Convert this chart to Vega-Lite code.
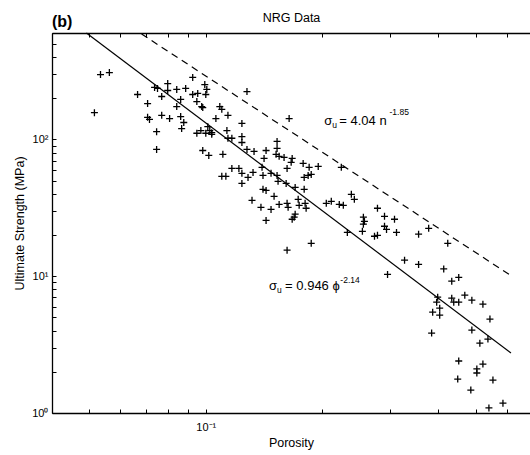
{
  "$schema": "https://vega.github.io/schema/vega-lite/v6.json",
  "width": 478,
  "height": 380,
  "autosize": {"type": "none"},
  "padding": {"left": 52, "top": 33, "right": 0, "bottom": 42},
  "background": "white",
  "title": {"text": "(b)", "anchor": "start", "frame": "group", "font": "Liberation Sans", "fontSize": 16, "fontWeight": "bold", "color": "black", "offset": 0, "dy": 18},
  "config": {
    "view": {"stroke": null},
    "font": "Liberation Sans",
    "axis": {
      "grid": false,
      "domainColor": "black",
      "domainWidth": 1.3,
      "tickColor": "black",
      "tickWidth": 1,
      "labelColor": "black",
      "titleColor": "black",
      "labelFont": "Liberation Sans",
      "titleFont": "Liberation Sans",
      "labelFontSize": 11,
      "titleFontSize": 12.5,
      "titleFontWeight": "normal",
      "labelFlush": false,
      "labelOverlap": false
    }
  },
  "datasets": {
    "pts": [
      {"porosity":0.0534,"strength":298},{"porosity":0.0563,"strength":308},{"porosity":0.0515,"strength":157},{"porosity":0.0666,"strength":213},
      {"porosity":0.0707,"strength":183},{"porosity":0.0707,"strength":145},{"porosity":0.0715,"strength":140},{"porosity":0.0746,"strength":114},
      {"porosity":0.0746,"strength":84.5},{"porosity":0.0737,"strength":240},{"porosity":0.075,"strength":236},{"porosity":0.0769,"strength":206},
      {"porosity":0.0797,"strength":256},{"porosity":0.0797,"strength":228},{"porosity":0.0841,"strength":232},{"porosity":0.0769,"strength":150},
      {"porosity":0.0806,"strength":142},{"porosity":0.0841,"strength":174},{"porosity":0.0925,"strength":284},{"porosity":0.0887,"strength":236},
      {"porosity":0.0994,"strength":252},{"porosity":0.1006,"strength":232},{"porosity":0.0925,"strength":213},{"porosity":0.0953,"strength":217},
      {"porosity":0.1,"strength":213},{"porosity":0.0948,"strength":189},{"porosity":0.0976,"strength":174},{"porosity":0.0982,"strength":171},
      {"porosity":0.0861,"strength":196},{"porosity":0.1087,"strength":174},{"porosity":0.11,"strength":166},{"porosity":0.1141,"strength":150},
      {"porosity":0.1062,"strength":142},{"porosity":0.1278,"strength":224},{"porosity":0.0861,"strength":147},{"porosity":0.0877,"strength":133},
      {"porosity":0.0866,"strength":120},{"porosity":0.1012,"strength":124},{"porosity":0.0971,"strength":116},{"porosity":0.0948,"strength":111},
      {"porosity":0.1024,"strength":116},{"porosity":0.1036,"strength":112},{"porosity":0.1036,"strength":109},{"porosity":0.1,"strength":111},
      {"porosity":0.1134,"strength":116},{"porosity":0.124,"strength":131},{"porosity":0.1141,"strength":102},{"porosity":0.1168,"strength":102},
      {"porosity":0.124,"strength":105},{"porosity":0.124,"strength":95},{"porosity":0.0982,"strength":83},{"porosity":0.1018,"strength":76.4},
      {"porosity":0.1107,"strength":77.8},{"porosity":0.1278,"strength":84.5},{"porosity":0.1333,"strength":81.7},{"porosity":0.1432,"strength":83},
      {"porosity":0.1529,"strength":96.7},{"porosity":0.1529,"strength":86},{"porosity":0.152,"strength":77.8},{"porosity":0.1548,"strength":75.2},
      {"porosity":0.1594,"strength":73.9},{"porosity":0.1415,"strength":72.6},{"porosity":0.1643,"strength":142},{"porosity":0.1673,"strength":72.6},
      {"porosity":0.1663,"strength":68},{"porosity":0.1786,"strength":66.8},{"porosity":0.11,"strength":53.7},{"porosity":0.1127,"strength":53.7},
      {"porosity":0.1168,"strength":61.4},{"porosity":0.1218,"strength":61.4},{"porosity":0.124,"strength":56.5},{"porosity":0.1286,"strength":52.8},
      {"porosity":0.1325,"strength":57.4},{"porosity":0.1398,"strength":62.5},{"porosity":0.1406,"strength":54.6},{"porosity":0.1475,"strength":56.5},
      {"porosity":0.1529,"strength":54.6},{"porosity":0.1538,"strength":49.4},{"porosity":0.1614,"strength":47.7},{"porosity":0.1623,"strength":61.4},
      {"porosity":0.1851,"strength":62.5},{"porosity":0.1954,"strength":63.5},{"porosity":0.1797,"strength":52.8},{"porosity":0.184,"strength":54.6},
      {"porosity":0.1874,"strength":55.5},{"porosity":0.2242,"strength":62.5},{"porosity":0.124,"strength":47.7},{"porosity":0.1703,"strength":44.6},
      {"porosity":0.1797,"strength":43.2},{"porosity":0.1406,"strength":43.2},{"porosity":0.1432,"strength":42.4},{"porosity":0.1502,"strength":38.4},
      {"porosity":0.1317,"strength":35.9},{"porosity":0.1389,"strength":31.9},{"porosity":0.1475,"strength":30.8},{"porosity":0.1548,"strength":33.5},
      {"porosity":0.1623,"strength":34.1},{"porosity":0.1633,"strength":31.9},{"porosity":0.1734,"strength":36.5},{"porosity":0.1744,"strength":33},
      {"porosity":0.1807,"strength":34.1},{"porosity":0.1818,"strength":31.4},{"porosity":0.1703,"strength":28.4},{"porosity":0.1693,"strength":27},
      {"porosity":0.1673,"strength":26.1},{"porosity":0.1432,"strength":25.6},{"porosity":0.205,"strength":34.1},{"porosity":0.2112,"strength":35.3},
      {"porosity":0.2215,"strength":33.5},{"porosity":0.2269,"strength":33},{"porosity":0.2324,"strength":20.9},{"porosity":0.1874,"strength":17.4},
      {"porosity":0.1623,"strength":15.5},{"porosity":0.238,"strength":39.7},{"porosity":0.2423,"strength":36.5},{"porosity":0.2781,"strength":31.4},
      {"porosity":0.29,"strength":27.4},{"porosity":0.3078,"strength":26.1},{"porosity":0.2557,"strength":27},{"porosity":0.2573,"strength":25.2},
      {"porosity":0.2557,"strength":24},{"porosity":0.2542,"strength":21.3},{"porosity":0.29,"strength":23.2},{"porosity":0.2935,"strength":22},
      {"porosity":0.3115,"strength":20.9},{"porosity":0.2732,"strength":19.6},{"porosity":0.2781,"strength":19.9},{"porosity":0.3553,"strength":20.3},
      {"porosity":0.3773,"strength":22.4},{"porosity":0.4227,"strength":17.4},{"porosity":0.3268,"strength":13.1},{"porosity":0.3553,"strength":12.2},
      {"porosity":0.4127,"strength":11.3},{"porosity":0.2953,"strength":10.3},{"porosity":0.4329,"strength":9.2},{"porosity":0.4513,"strength":9.8},
      {"porosity":0.3981,"strength":7.03},{"porosity":0.3957,"strength":6.46},{"porosity":0.4029,"strength":5.84},{"porosity":0.3864,"strength":5.46},
      {"porosity":0.4029,"strength":5.19},{"porosity":0.4329,"strength":6.91},{"porosity":0.4381,"strength":6.46},{"porosity":0.4513,"strength":6.46},
      {"porosity":0.4679,"strength":7.27},{"porosity":0.488,"strength":6.68},{"porosity":0.5212,"strength":6.25},{"porosity":0.5435,"strength":4.86},
      {"porosity":0.384,"strength":3.84},{"porosity":0.488,"strength":4.04},{"porosity":0.5118,"strength":3.24},{"porosity":0.537,"strength":3.47},
      {"porosity":0.4513,"strength":2.4},{"porosity":0.5212,"strength":2.28},{"porosity":0.5027,"strength":2.1},{"porosity":0.5027,"strength":1.96},
      {"porosity":0.4486,"strength":1.77},{"porosity":0.5533,"strength":1.74},{"porosity":0.485,"strength":1.47},{"porosity":0.5873,"strength":1.18},
      {"porosity":0.5402,"strength":1.09}
    ],
    "fitPhi": [{"porosity":0.0491,"strength":600},{"porosity":0.616,"strength":2.75}],
    "fitN": [{"porosity":0.0682,"strength":590},{"porosity":0.616,"strength":10.1}],
    "bigText": [
      {"porosity":0.2026,"strength":126.5,"label":"σ"},
      {"porosity":0.2215,"strength":126.5,"label":"= 4.04 n"},
      {"porosity":0.1458,"strength":7.9,"label":"σ"},
      {"porosity":0.1604,"strength":7.9,"label":"= 0.946 ϕ"}
    ],
    "smallText": [
      {"porosity":0.2125,"strength":120.3,"label":"u"},
      {"porosity":0.2988,"strength":152,"label":"-1.85"},
      {"porosity":0.1529,"strength":7.51,"label":"u"},
      {"porosity":0.2229,"strength":8.89,"label":"-2.14"}
    ]
  },
  "resolve": {"axis": {"x": "independent", "y": "independent"}},
  "layer": [
    {
      "data": {"name": "pts"},
      "mark": {"type": "point", "shape": "M-1,0H1M0,-1V1", "filled": false, "stroke": "black", "strokeWidth": 1.3, "size": 49, "opacity": 1},
      "encoding": {
        "x": {"field": "porosity", "type": "quantitative", "scale": {"type": "log", "domain": [0.04, 0.69], "nice": false},
          "axis": {"orient": "bottom", "title": "Porosity", "values": [0.04,0.05,0.06,0.07,0.08,0.09,0.1,0.2,0.3,0.4,0.5,0.6],
            "labelExpr": "datum.value == 0.1 ? '10⁻¹' : ''", "tickSize": -4, "labelPadding": 12, "titlePadding": 4}},
        "y": {"field": "strength", "type": "quantitative", "scale": {"type": "log", "domain": [1, 600], "nice": false},
          "axis": {"orient": "left", "title": "Ultimate Strength (MPa)", "values": [1,2,3,4,5,6,7,8,9,10,20,30,40,50,60,70,80,90,100,200,300,400,500,600],
            "labelExpr": "datum.value == 1 ? '10⁰' : datum.value == 10 ? '10¹' : datum.value == 100 ? '10²' : ''", "tickSize": -4, "labelPadding": 8, "titlePadding": 5}}
      }
    },
    {
      "data": {"name": "fitPhi"},
      "mark": {"type": "line", "color": "black", "strokeWidth": 1.2},
      "encoding": {
        "x": {"field": "porosity", "type": "quantitative", "scale": {"type": "log", "domain": [0.04, 0.69], "nice": false},
          "axis": {"orient": "top", "title": "NRG Data", "values": [0.04,0.05,0.06,0.07,0.08,0.09,0.1,0.2,0.3,0.4,0.5,0.6], "labels": false, "tickSize": -4, "titlePadding": 8}},
        "y": {"field": "strength", "type": "quantitative", "scale": {"type": "log", "domain": [1, 600], "nice": false}, "axis": null}
      }
    },
    {
      "data": {"name": "fitN"},
      "mark": {"type": "line", "color": "black", "strokeWidth": 1.2, "strokeDash": [7, 5]},
      "encoding": {
        "x": {"field": "porosity", "type": "quantitative", "scale": {"type": "log", "domain": [0.04, 0.69], "nice": false}, "axis": null},
        "y": {"field": "strength", "type": "quantitative", "scale": {"type": "log", "domain": [1, 600], "nice": false}, "axis": null}
      }
    },
    {
      "data": {"name": "bigText"},
      "mark": {"type": "text", "align": "left", "baseline": "alphabetic", "font": "Liberation Sans", "fontSize": 13, "color": "black"},
      "encoding": {
        "x": {"field": "porosity", "type": "quantitative", "scale": {"type": "log", "domain": [0.04, 0.69], "nice": false}, "axis": null},
        "y": {"field": "strength", "type": "quantitative", "scale": {"type": "log", "domain": [1, 600], "nice": false}, "axis": null},
        "text": {"field": "label"}
      }
    },
    {
      "data": {"name": "smallText"},
      "mark": {"type": "text", "align": "left", "baseline": "alphabetic", "font": "Liberation Sans", "fontSize": 8.5, "color": "black"},
      "encoding": {
        "x": {"field": "porosity", "type": "quantitative", "scale": {"type": "log", "domain": [0.04, 0.69], "nice": false}, "axis": null},
        "y": {"field": "strength", "type": "quantitative", "scale": {"type": "log", "domain": [1, 600], "nice": false}, "axis": null},
        "text": {"field": "label"}
      }
    }
  ]
}
